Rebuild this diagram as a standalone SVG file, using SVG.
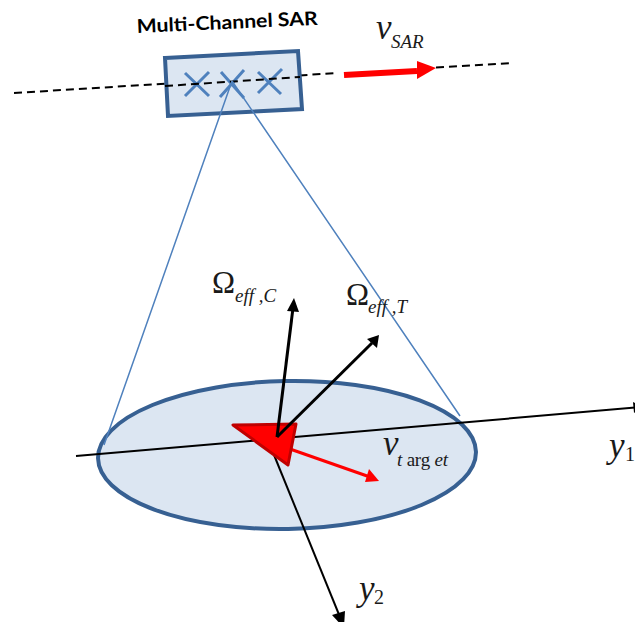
<svg xmlns="http://www.w3.org/2000/svg" width="635" height="622" viewBox="0 0 635 622">
<style>
.sym{font-family:"Liberation Serif",serif;fill:#1a1a1a}
.it{font-style:italic}
.big{font-size:35px}
.sub{font-size:19px}
.blue{stroke:#4f81bd;fill:none}
.blk{stroke:#000;fill:none}
</style>
<rect width="635" height="622" fill="#fff"/>
<g id="connectors-back">
<path d="M14 93L338 73M436 67.500L512 63" stroke="#000" stroke-width="2" stroke-dasharray="8 5" fill="none"/>
</g>
<g id="sar-node">
<polygon points="165,58 298,51 302,109 168,116" fill="#dce6f2" stroke="#376092" stroke-width="4"/>
<g stroke="#4f81bd" stroke-width="3" fill="none">
<path d="M185 73L209 96M209 72L185 96"/>
<path d="M221 72L244 98M244 70L220 97"/>
<path d="M258 72L281 94M282 69L258 93"/>
</g>
<path d="M165 86L300 77" stroke="#000" stroke-width="2" stroke-dasharray="8 5" fill="none"/>
<text x="137" y="33" transform="rotate(-2.600 137 33)" font-family="Lato,'Liberation Sans',sans-serif" font-size="19" font-weight="700" fill="#000" textLength="181" lengthAdjust="spacingAndGlyphs">Multi-Channel SAR</text>
</g>
<g id="ellipse-node"><ellipse cx="287" cy="455" rx="189" ry="74" transform="rotate(-1 287 455)" fill="#dce6f2" stroke="#376092" stroke-width="4"/></g>
<g id="connectors">
<path class="blue" stroke-width="1.500" d="M232 81L104 445M232 81L460 416"/>
<path class="blk" stroke-width="2" d="M76 456L642 407"/>
<polygon points="633,402 642,407 634,413" fill="#000"/>
<path class="blk" stroke-width="2" d="M272 450L342 622"/>
<polygon points="332,615 344,628 345,611" fill="#000"/>
<path d="M344 75L417 71" stroke="#f00" stroke-width="6" fill="none"/>
<polygon points="417,61 436,68 417,79" fill="#f00"/>
<path d="M290 449L370 477" stroke="#f00" stroke-width="3" fill="none"/>
<polygon points="369,469 365,482 379,481" fill="#f00"/>
</g>
<g id="target-node"><polygon points="233,425 296,424 288,465" fill="#f00" stroke="#c00000" stroke-width="3" stroke-linejoin="round"/></g>
<g id="vectors">
<path class="blk" stroke-width="3" d="M277 437L293 308"/>
<polygon points="294,298 287,311 299,312" fill="#000"/>
<path class="blk" stroke-width="3" d="M277 437L372 343"/>
<polygon points="379,335 367,339 377,348" fill="#000"/>
</g>
<g id="labels">
<text class="sym it big" x="376" y="39">v</text>
<text class="sym it sub" x="391" y="48" font-size="18">SAR</text>
<text class="sym" x="212" y="293" font-size="31">Ω</text>
<text class="sym it sub" x="235" y="302">eff ,C</text>
<text class="sym" x="346" y="305" font-size="31">Ω</text>
<text class="sym it sub" x="368" y="313">eff ,T</text>
<text class="sym it big" x="383" y="455">v</text>
<text class="sym sub" x="397" y="466" textLength="51"><tspan class="it">t</tspan> arg <tspan class="it">et</tspan></text>
<text class="sym it big" x="609" y="457">y</text>
<text class="sym" x="625" y="461" font-size="20">1</text>
<text class="sym it big" x="359" y="600">y</text>
<text class="sym" x="374" y="604" font-size="20">2</text>
</g>
</svg>
